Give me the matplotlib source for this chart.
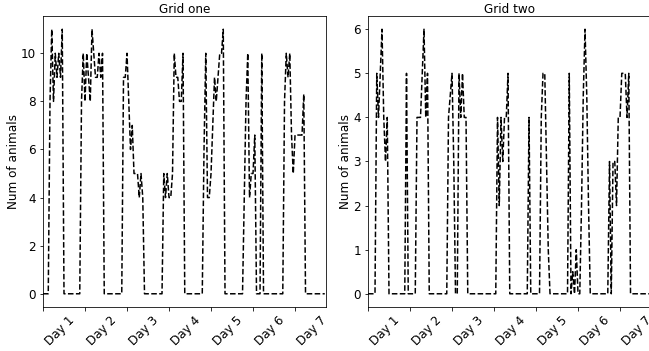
import numpy as np
import matplotlib.pyplot as plt

# hourly counts, one value per hour starting at day 1 00:00
grid_one = [0, 0, 0, 0,
            8, 11, 8, 10, 9, 10, 9, 11,
            0, 0, 0, 0, 0, 0, 0, 0, 0, 0,
            8, 10, 8, 10, 9, 8, 11, 10, 9, 9, 10, 9, 10,
            0, 0, 0, 0, 0, 0, 0, 0, 0, 0, 0,
            9, 9, 10, 8, 6, 7, 5, 5, 5, 4, 5, 4,
            0, 0, 0, 0, 0, 0, 0, 0, 0, 0, 0,
            5, 4, 5, 4, 4, 5, 10, 9, 9, 8, 8, 10,
            0, 0, 0, 0, 0, 0, 0, 0, 0, 0, 0,
            6, 10, 4, 4, 5, 7, 9, 8, 9, 10, 10, 11,
            0, 0, 0, 0, 0, 0, 0, 0, 0, 0, 0,
            4, 8, 10, 4, 5, 5, 6.6,
            0, 0, 0,
            10,
            0, 0, 0, 0, 0, 0, 0, 0, 0, 0, 0, 0,
            8, 10, 9, 10, 6.6, 5, 6.6, 6.6, 6.6, 6.6, 6.6, 8.3,
            0, 0, 0, 0, 0, 0, 0, 0, 0, 0, 0, 0]

grid_two = [0, 0, 0, 0, 0,
            5, 4, 5, 6, 4, 3, 4,
            0, 0, 0, 0, 0, 0, 0, 0, 0, 0,
            5,
            0, 0, 0, 0, 0,
            4, 4, 4, 5, 6, 4, 5,
            0, 0, 0, 0, 0, 0, 0, 0, 0, 0, 0,
            4, 4.5, 5, 3,
            0, 0,
            5, 4, 5, 4, 4,
            0, 0, 0, 0, 0, 0, 0, 0, 0, 0, 0, 0, 0, 0, 0, 0, 0,
            4, 2, 4, 3, 4, 4, 5,
            0, 0, 0, 0, 0, 0, 0, 0, 0, 0, 0,
            4,
            0, 0, 0, 0, 0, 0,
            4, 5, 5, 3, 1,
            0, 0, 0, 0, 0, 0, 0, 0, 0, 0, 0,
            5,
            0,
            0.5, 0, 1, 0,
            0,
            2, 4.5, 6, 4.5, 2,
            0, 0, 0, 0, 0, 0, 0, 0, 0, 0, 0,
            3, 0, 3, 3, 2, 4, 4, 5, 5, 5, 4, 5,
            0, 0, 0, 0, 0, 0, 0, 0, 0, 0, 0, 0]

titles = ['Grid one', 'Grid two']
day_labels = ['Day 1', 'Day 2', 'Day 3', 'Day 4', 'Day 5', 'Day 6', 'Day 7']

fig = plt.figure(figsize=(649/72, 351/72), dpi=72)
ax1 = fig.add_axes([43/649, 44/351, 283/649, 291/351])
ax2 = fig.add_axes([368/649, 44/351, 283/649, 291/351])

for ax, counts, title in zip([ax1, ax2], [grid_one, grid_two], titles):
  hours = np.arange(len(counts))
  ax.plot(hours, counts, 'k--')
  ax.set_xlim(0, 161.7)
  ax.set_xticks(np.arange(0, 24*len(day_labels), 24))
  ax.set_xticklabels(day_labels, rotation=45, ha='left')
  ax.tick_params(labelsize=12)
  ax.set_ylabel('Num of animals', fontsize=12, labelpad=1)
  ax.set_title(title, fontsize=12, pad=3)

fig.savefig('out.png', dpi=72)
